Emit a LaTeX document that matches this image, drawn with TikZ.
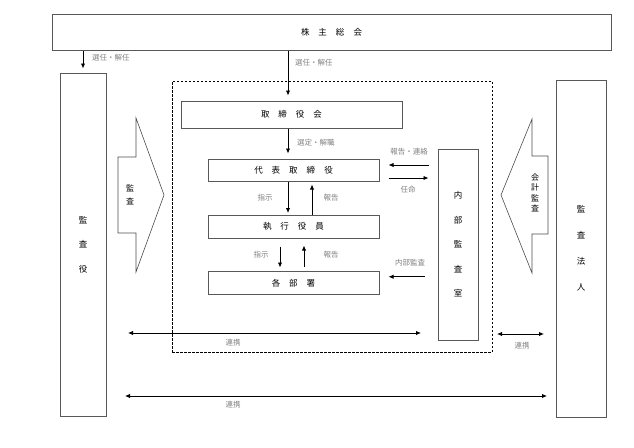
\documentclass[tikz,border=0pt]{standalone}
\usepackage{fontspec}
\setmainfont{Noto Sans CJK JP}
\usetikzlibrary{arrows.meta}

\tikzset{
	box/.style = {draw = black!65, line width = 1pt, inner sep = 0pt, align = center, font = \fontsize{8.5}{24.5}\selectfont},
	lbl/.style = {text = black!50, inner sep = 0pt, font = \fontsize{7.5}{9}\selectfont},
	blk/.style = {draw = black!70, line width = 0.6pt},
	arr/.style = {-{Latex[length = 5pt, width = 4.5pt]}, line width = 0.9pt},
	darr/.style = {{Latex[length = 5pt, width = 4.5pt]}-{Latex[length = 5pt, width = 4.5pt]}, line width = 0.9pt}
}
\newcommand{\jg}{\hspace{9pt}}

\begin{document}
\begin{tikzpicture}[x = 1pt, y = -1pt]
			\useasboundingbox (0,0) rectangle (634,447);

			% boxes
			\node [box, minimum width = 559, minimum height = 36] (soukai) at (331.5,32) {株\jg 主\jg 総\jg 会};
			\node [box, minimum width = 46, minimum height = 343] (kansayaku) at (83,244.5) {監\\査\\役};
			\node [box, minimum width = 50, minimum height = 337, font = \fontsize{8.5}{26}\selectfont] (houjin) at (581,248.5) {監\\査\\法\\人};
			\node [draw, dashed, line width = 0.8pt, dash pattern = on 2.5pt off 1.5pt, minimum width = 320, minimum height = 271, inner sep = 0pt] (frame) at (332,216.5) {};
			\node [box, minimum width = 221, minimum height = 27] (torishimari) at (291.5,114.5) {取\jg 締\jg 役\jg 会};
			\node [box, minimum width = 171, minimum height = 22] (daihyou) at (293.5,170) {代\jg 表\jg 取\jg 締\jg 役};
			\node [box, minimum width = 171, minimum height = 22.5] (shikkou) at (293.5,226.75) {執\jg 行\jg 役\jg 員};
			\node [box, minimum width = 171, minimum height = 22.5] (kakubu) at (293.5,282.75) {各\jg 部\jg 署};
			\node [box, minimum width = 40, minimum height = 191] (naibu) at (458,244.5) {内\\部\\監\\査\\室};

			% block arrows
			\draw [blk] (118,157) -- (136,157) -- (136,118) -- (164,195) -- (136,272) -- (136,233) -- (118,233) -- cycle;
			\node [align = center, inner sep = 0pt, font = \fontsize{8}{13}\selectfont] (kansa) at (130,195) {監\\査};
			\draw [blk] (548,156) -- (532,156) -- (532,119) -- (501,195) -- (532,273) -- (532,234) -- (548,234) -- cycle;
			\node [align = center, inner sep = 0pt, font = \fontsize{8}{10.5}\selectfont] (kaikei) at (535,193) {会\\計\\監\\査};

			\coordinate (renkeiA) at (128,333);
			\coordinate (renkeiB) at (421,333);
			\coordinate (renkeiC) at (497,334);
			\coordinate (renkeiD) at (544,334);
			\coordinate (renkeiE) at (125,396);
			\coordinate (renkeiF) at (547,396);

			\begin{scope}[arr]
				\draw [shorten >= 4pt] (kansayaku.north |- soukai.south) -- (kansayaku.north);
				\draw [shorten >= 5pt] ([xshift = -3.5pt]torishimari.north |- soukai.south) -- ([xshift = -3.5pt]torishimari.north);
				\draw [shorten >= 5pt] ([xshift = -3.5pt]torishimari.south) -- ([xshift = -3.5pt]torishimari.south |- daihyou.north);
				\draw [shorten >= 2pt] ([xshift = -5.5pt]daihyou.south) -- ([xshift = -5.5pt]daihyou.south |- shikkou.north);
				\draw [shorten >= 3pt] ([xshift = 18.5pt]daihyou.south |- shikkou.north) -- ([xshift = 18.5pt]daihyou.south);
				\draw [shorten <= 8pt, shorten >= 3.5pt] ([xshift = -13.5pt]shikkou.south) -- ([xshift = -13.5pt]shikkou.south |- kakubu.north);
				\draw [shorten <= 4.5pt, shorten >= 7pt] ([xshift = 10.5pt]shikkou.south |- kakubu.north) -- ([xshift = 10.5pt]shikkou.south);
				\draw [shorten <= 9pt, shorten >= 9pt] ([yshift = 5pt]daihyou.east -| naibu.west) -- ([yshift = 5pt]daihyou.east);
				\draw [shorten <= 9pt, shorten >= 9pt] ([yshift = -8pt]daihyou.east) -- ([yshift = -8pt]daihyou.east -| naibu.west);
				\draw [shorten <= 13pt, shorten >= 9pt] ([yshift = 6pt]kakubu.east -| naibu.west) -- ([yshift = 6pt]kakubu.east);
			\end{scope}

			\begin{scope}[darr]
				\draw (renkeiA) -- (renkeiB);
				\draw (renkeiC) -- (renkeiD);
				\draw (renkeiE) -- (renkeiF);
			\end{scope}

			% labels
			\node [lbl, anchor = west] (l1) at (92,58) {選任・解任};
			\node [lbl, anchor = west] (l2) at (295,63) {選任・解任};
			\node [lbl, anchor = west] (l3) at (297,143) {選定・解職};
			\node [lbl] (l4) at (409,152) {報告・連絡};
			\node [lbl] (l5) at (408,190) {任命};
			\node [lbl] (l6) at (265,198) {指示};
			\node [lbl] (l7) at (331,198) {報告};
			\node [lbl] (l8) at (261,255) {指示};
			\node [lbl] (l9) at (331,255) {報告};
			\node [lbl] (l10) at (410,263) {内部監査};
			\node [lbl] (l11) at (233,343) {連携};
			\node [lbl] (l12) at (522,346) {連携};
			\node [lbl] (l13) at (233,405) {連携};
		\end{tikzpicture}
\end{document}
